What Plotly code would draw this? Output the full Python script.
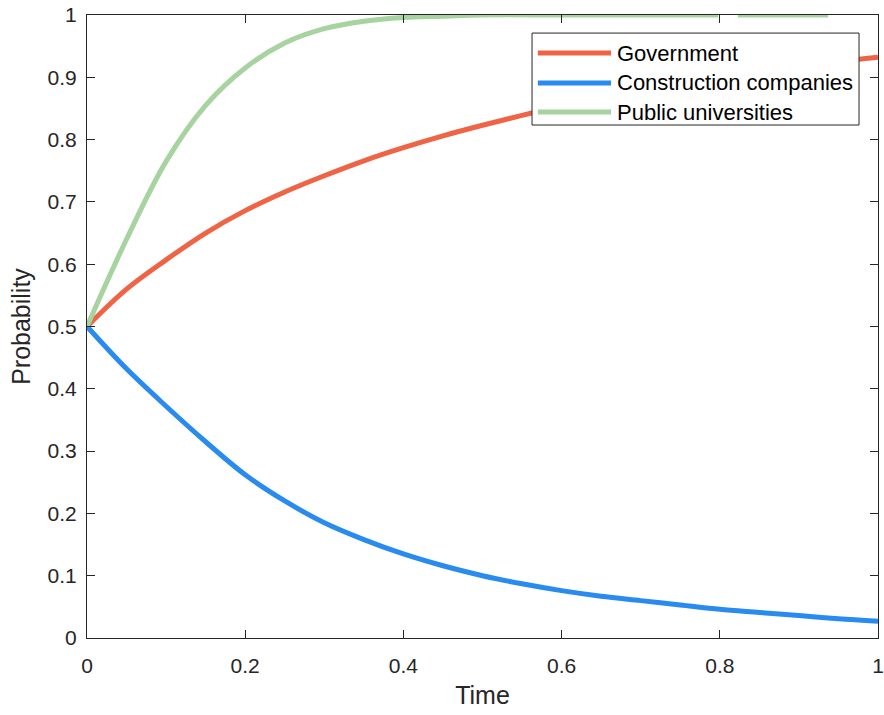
import plotly.graph_objects as go

# ---- data ----
t = [0, 0.05, 0.1, 0.15, 0.2, 0.25, 0.3, 0.35, 0.4, 0.45, 0.5, 0.55, 0.6, 0.65, 0.7, 0.75, 0.8, 0.85, 0.9, 0.95, 1.0]
government = [0.5, 0.56, 0.607, 0.65, 0.686, 0.716, 0.742, 0.766, 0.787, 0.806, 0.823, 0.839, 0.854, 0.867, 0.879, 0.89, 0.9, 0.909, 0.917, 0.925, 0.932]
construction = [0.5, 0.432, 0.372, 0.315, 0.262, 0.22, 0.185, 0.158, 0.135, 0.116, 0.1, 0.087, 0.076, 0.067, 0.06, 0.053, 0.046, 0.041, 0.036, 0.031, 0.027]

t_pub = [0, 0.05, 0.1, 0.15, 0.2, 0.25, 0.3, 0.35, 0.4, 0.45, 0.5, 0.6, 0.7, 0.798, 0.81, 0.823, 0.9, 0.937]
public = [0.5, 0.64, 0.765, 0.855, 0.915, 0.955, 0.978, 0.99, 0.996, 0.998, 1.0, 1.0, 1.0, 1.0, None, 1.0, 1.0, 1.0]

x_ticks = [0, 0.2, 0.4, 0.6, 0.8, 1]
y_ticks = [0, 0.1, 0.2, 0.3, 0.4, 0.5, 0.6, 0.7, 0.8, 0.9, 1]

names = ["Government", "Construction companies", "Public universities"]
RED = "#EE6445"
BLUE = "#2A8BEF"
GREEN = "#A7D3A0"
colors = [RED, BLUE, GREEN]
INK = "#262626"
FONT = "Liberation Sans, Arial, sans-serif"
LW = 5

fig = go.Figure()
series = [(t, government), (t, construction), (t_pub, public)]
for (xs, ys), name, col in zip(series, names, colors):
    fig.add_trace(go.Scatter(x=xs, y=ys, mode="lines", name=name, showlegend=False,
                             line=dict(color=col, width=LW, shape="spline"),
                             cliponaxis=False, connectgaps=False))

axis_common = dict(showgrid=False, zeroline=False, showline=True, linecolor=INK, linewidth=1,
                   mirror="ticks", ticks="inside", ticklen=8, tickcolor=INK, tickwidth=1,
                   automargin=False, ticklabeloverflow="allow",
                   tickfont=dict(family=FONT, size=21, color=INK))

# custom legend box (MATLAB style, long line samples)
shapes = [dict(type="rect", xref="paper", yref="paper", x0=0.5626, x1=0.976, y0=0.8234, y1=0.971,
               line=dict(color=INK, width=1), fillcolor="white", layer="above")]
annotations = []
row_y = [0.939, 0.891, 0.8443]
for name, col, yy in zip(names, colors, row_y):
    shapes.append(dict(type="line", xref="paper", yref="paper", x0=0.570, x1=0.6625, y0=yy, y1=yy,
                       line=dict(color=col, width=LW), layer="above"))
    annotations.append(dict(xref="paper", yref="paper", x=0.668, y=yy, text=name, showarrow=False,
                            xanchor="left", yanchor="middle",
                            font=dict(family=FONT, size=22, color="black")))

fig.update_layout(
    width=884, height=715,
    margin=dict(l=87, r=6, t=15, b=77),
    plot_bgcolor="white", paper_bgcolor="white",
    font=dict(family=FONT, color=INK),
    xaxis=dict(range=[0, 1], tickvals=x_ticks, ticklabelstandoff=9,
               title=dict(text="Time", font=dict(family=FONT, size=25, color=INK), standoff=10),
               **axis_common),
    yaxis=dict(range=[0, 1], tickvals=y_ticks, ticklabelstandoff=5,
               title=dict(text="Probability", font=dict(family=FONT, size=25, color=INK), standoff=9),
               **axis_common),
    shapes=shapes,
    annotations=annotations,
    showlegend=False,
)

fig.write_html("out.html", config={"displayModeBar": False},
               post_script="document.body.style.margin='0px';")
